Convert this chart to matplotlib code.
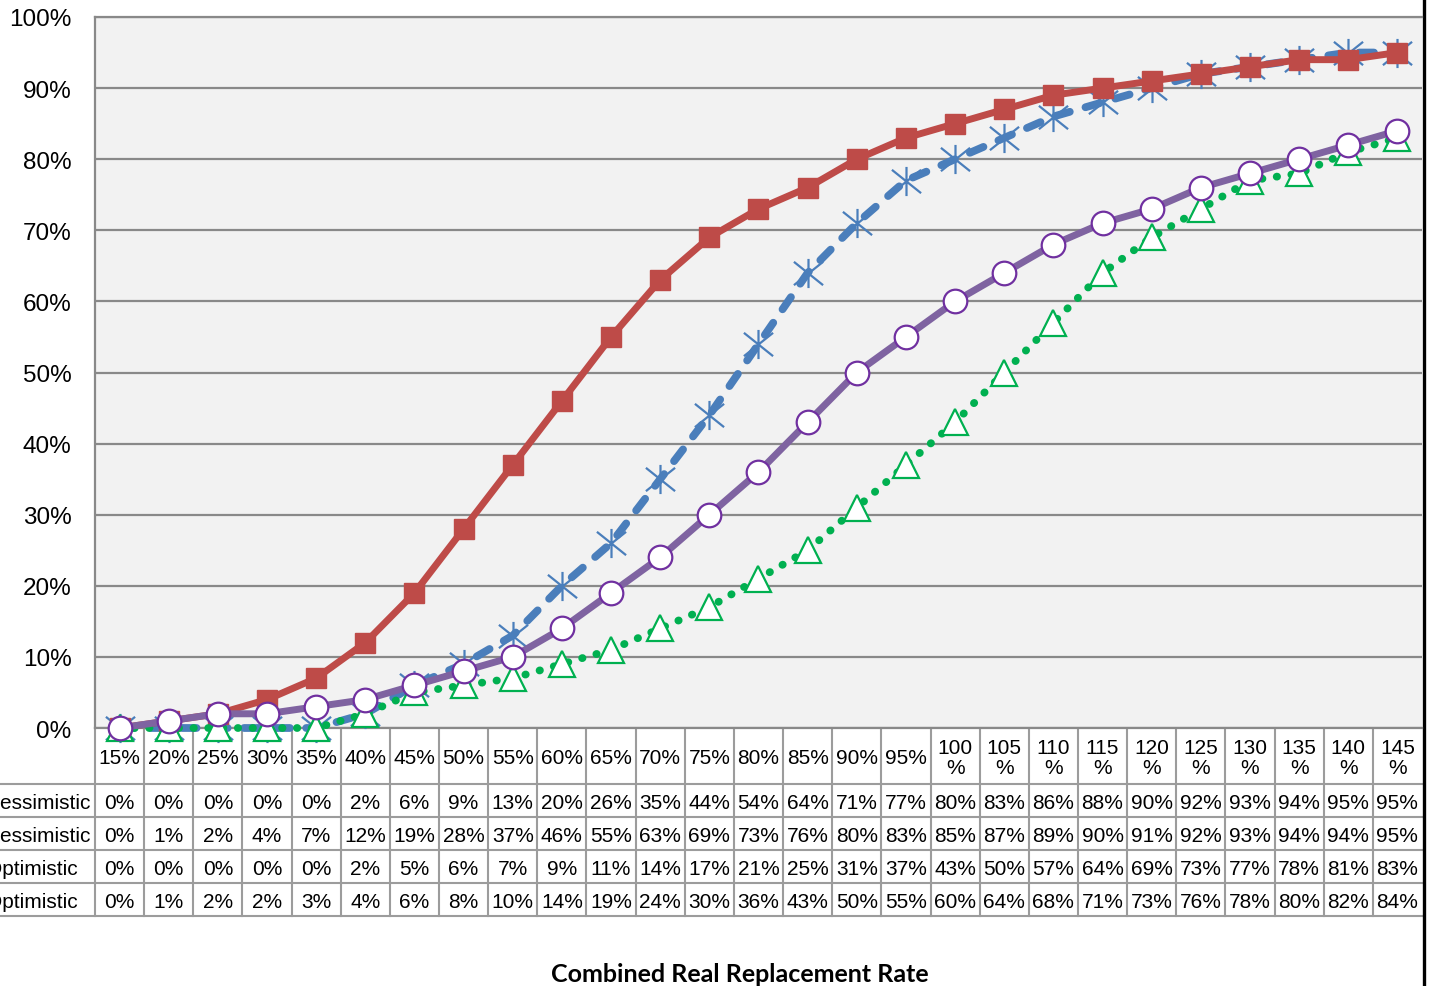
import matplotlib

matplotlib.use("Agg")
import matplotlib.pyplot as plt
from matplotlib.lines import Line2D
from matplotlib.path import Path

plt.rcParams["font.family"] = ["Liberation Sans", "DejaVu Sans"]

# combined real replacement rate categories (table header)
rates = list(range(15, 150, 5))
col_labels = ["{}%".format(r) if r < 100 else "{}\n%".format(r) for r in rates]

row_labels = ["Pessimistic", "Pessimistic", "Optimistic", "Optimistic"]

pess_a = [0, 0, 0, 0, 0, 2, 6, 9, 13, 20, 26, 35, 44, 54, 64, 71, 77, 80, 83,
          86, 88, 90, 92, 93, 94, 95, 95]
pess_b = [0, 1, 2, 4, 7, 12, 19, 28, 37, 46, 55, 63, 69, 73, 76, 80, 83, 85,
          87, 89, 90, 91, 92, 93, 94, 94, 95]
opt_a = [0, 0, 0, 0, 0, 2, 5, 6, 7, 9, 11, 14, 17, 21, 25, 31, 37, 43, 50, 57,
         64, 69, 73, 77, 78, 81, 83]
opt_b = [0, 1, 2, 2, 3, 4, 6, 8, 10, 14, 19, 24, 30, 36, 43, 50, 55, 60, 64,
         68, 71, 73, 76, 78, 80, 82, 84]
table_rows = [pess_a, pess_b, opt_a, opt_b]

W, H = 1437, 987
GRID = "#898989"
TABLE_LINE = "#9c9c9c"


def box(left, top, right, bottom):
    return [left / W, 1 - bottom / H, (right - left) / W, (bottom - top) / H]


# excel-like "star" marker: vertical bar plus an X
star = Path(
    [(0, -1), (0, 1), (-1, -0.8), (1, 0.8), (-1, 0.8), (1, -0.8)],
    [Path.MOVETO, Path.LINETO] * 3,
)

fig = plt.figure(figsize=(W / 100, H / 100), dpi=100)
ax = fig.add_axes(box(95, 18, 1422, 729))
tax = fig.add_axes(box(95, 729, 1422, 917))
ax.set_zorder(2)
tax.set_zorder(1)

x = list(range(len(rates)))
ax.set_facecolor("#F2F2F2")
ax.set_xlim(-0.5, len(rates) - 0.5)
ax.set_ylim(0, 100)
ax.set_yticks(range(0, 101, 10))
ax.set_yticklabels(["{}%".format(v) for v in range(0, 101, 10)])
ax.set_xticks([])
ax.tick_params(axis="y", length=0, pad=17, labelsize=17.5)
ax.yaxis.grid(True, color=GRID, lw=1.6)
ax.set_axisbelow(True)
for side in ("left", "top", "bottom"):
    ax.spines[side].set_color(GRID)
    ax.spines[side].set_linewidth(1.6)
ax.spines["right"].set_visible(False)

ax.plot(x, pess_a, color="#4A7EBB", lw=5.6, dashes=(1.9, 2.1),
        dash_capstyle="round", marker=star, ms=21, mew=1.6,
        mec="#4A7EBB", mfc="#4A7EBB", clip_on=False, zorder=3)
ax.plot(x, pess_b, color="#BE4B48", lw=5, marker="s", ms=15,
        mec="#BE4B48", mfc="#BE4B48", clip_on=False, zorder=4)
ax.plot(x, opt_a, color="#00B050", lw=5.6, dashes=(0.05, 1.85),
        dash_capstyle="round", marker="^", ms=19, mew=1.6,
        mec="#00B050", mfc="white", clip_on=False, zorder=5)
ax.plot(x, opt_b, color="#7F63A1", lw=5, marker="o", ms=17, mew=1.6,
        mec="#7030A0", mfc="white", clip_on=False, zorder=6)

# data table under the plot
row_edges = [0, 56, 89, 122, 155, 188]
tax.set_xlim(-0.5, len(rates) - 0.5)
tax.set_ylim(row_edges[-1], 0)
tax.axis("off")
for k in range(len(rates)):
    tax.plot([k - 0.5, k - 0.5], [0, row_edges[-1]], color=TABLE_LINE,
             lw=1.5, clip_on=False)
for y in row_edges[1:]:
    tax.plot([-0.08, 1.0], [y, y], color=TABLE_LINE, lw=1.5,
             transform=tax.get_yaxis_transform(), clip_on=False)

for i, lbl in enumerate(col_labels):
    tax.text(i, row_edges[1] / 2 + 1.5, lbl, ha="center", va="center",
             fontsize=15, linespacing=1.05)
for r, (name, vals) in enumerate(zip(row_labels, table_rows)):
    ymid = (row_edges[r + 1] + row_edges[r + 2]) / 2 + 2
    tax.text(-0.082, ymid, name, ha="left", va="center", fontsize=15,
             transform=tax.get_yaxis_transform())
    for i, v in enumerate(vals):
        tax.text(i, ymid, "{}%".format(v), ha="center", va="center",
                 fontsize=15)

fig.add_artist(Line2D([1423.5 / W] * 2, [0, 1], color="black", lw=2.4,
                      transform=fig.transFigure))
fig.text(739.5 / W, 1 - 975 / H, "Combined Real Replacement Rate",
         ha="center", va="center", fontsize=18, fontweight="bold",
         family=["Lato", "DejaVu Sans"])

fig.savefig("out.png", dpi=100)
